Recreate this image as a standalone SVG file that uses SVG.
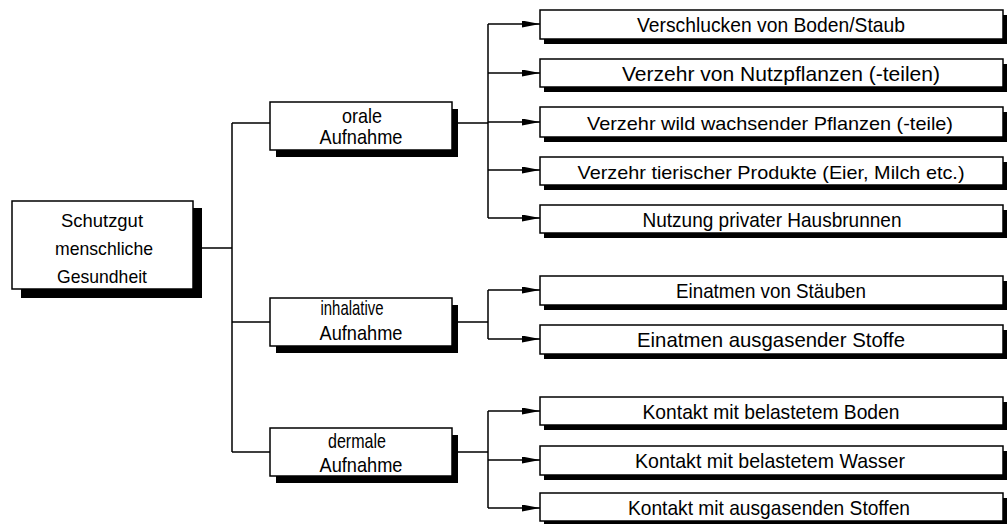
<svg xmlns="http://www.w3.org/2000/svg" width="1007" height="524" viewBox="0 0 1007 524">
<style>
.box{fill:#fff;stroke:#000;stroke-width:1.5}
.sh{fill:#000}
.ln{fill:none;stroke:#000;stroke-width:1.5}
.t{font-family:"Liberation Sans",Arial,sans-serif;fill:#000;text-anchor:middle}
.tl{font-size:21px}
.tx{font-size:19px}
.tm{font-size:21px}
.ts{font-size:19px}
</style>
<defs>
<marker id="ah" markerUnits="userSpaceOnUse" markerWidth="18" markerHeight="8" refX="18" refY="3.5" orient="auto">
<path d="M0,0 L18,3.5 L0,7 Z" fill="#000"/>
</marker>
</defs>
<rect width="1007" height="524" fill="#fff"/>
<g id="connectors">
<path class="ln" d="M201,248 H232 M232,123 V452 M232,123 H270 M232,322 H270 M232,452 H270"/>
<path class="ln" d="M458,123 H488 M488,24 V218 M458,322 H488 M488,290 V339 M458,452 H488 M488,411 V508"/>
<g marker-end="url(#ah)">
<path class="ln" d="M488,24 H540"/>
<path class="ln" d="M488,73 H540"/>
<path class="ln" d="M488,122 H540"/>
<path class="ln" d="M488,170 H540"/>
<path class="ln" d="M488,218 H540"/>
<path class="ln" d="M488,290 H540"/>
<path class="ln" d="M488,339 H540"/>
<path class="ln" d="M488,411 H540"/>
<path class="ln" d="M488,460 H540"/>
<path class="ln" d="M488,508 H540"/>
</g>
</g>
<g id="n-root">
<rect class="sh" x="21" y="208" width="181" height="90"/>
<rect class="box" x="12" y="201" width="181" height="88"/>
<text class="t ts" x="102" y="227" textLength="82" lengthAdjust="spacingAndGlyphs">Schutzgut</text>
<text class="t ts" x="104" y="255" textLength="98" lengthAdjust="spacingAndGlyphs">menschliche</text>
<text class="t ts" x="102" y="283" textLength="90" lengthAdjust="spacingAndGlyphs">Gesundheit</text>
</g>
<g id="n-oral">
<rect class="sh" x="276" y="109" width="182" height="48"/>
<rect class="box" x="270" y="102" width="182" height="48"/>
<text class="t tm" x="362" y="123" textLength="40" lengthAdjust="spacingAndGlyphs">orale</text>
<text class="t tm" x="361" y="144" textLength="83" lengthAdjust="spacingAndGlyphs">Aufnahme</text>
</g>
<g id="n-inhal">
<rect class="sh" x="276" y="305" width="182" height="48"/>
<rect class="box" x="270" y="298" width="182" height="48"/>
<text class="t tm" x="352" y="315" textLength="63" lengthAdjust="spacingAndGlyphs">inhalative</text>
<text class="t tm" x="361" y="340" textLength="83" lengthAdjust="spacingAndGlyphs">Aufnahme</text>
</g>
<g id="n-derm">
<rect class="sh" x="276" y="435" width="182" height="48"/>
<rect class="box" x="270" y="428" width="182" height="48"/>
<text class="t tm" x="357" y="448" textLength="58" lengthAdjust="spacingAndGlyphs">dermale</text>
<text class="t tm" x="361" y="472" textLength="83" lengthAdjust="spacingAndGlyphs">Aufnahme</text>
</g>
<g id="n-o1">
<rect class="sh" x="544" y="15" width="463" height="29"/>
<rect class="box" x="540" y="10" width="463" height="29"/>
<text class="t tl" x="771" y="32" textLength="268" lengthAdjust="spacingAndGlyphs">Verschlucken von Boden/Staub</text>
</g>
<g id="n-o2">
<rect class="sh" x="544" y="64" width="463" height="28"/>
<rect class="box" x="540" y="59" width="463" height="28"/>
<text class="t tl" x="781" y="81" textLength="318" lengthAdjust="spacingAndGlyphs">Verzehr von Nutzpflanzen (-teilen)</text>
</g>
<g id="n-o3">
<rect class="sh" x="544" y="112" width="463" height="30"/>
<rect class="box" x="540" y="107" width="463" height="30"/>
<text class="t tx" x="770" y="130" textLength="366" lengthAdjust="spacingAndGlyphs">Verzehr wild wachsender Pflanzen (-teile)</text>
</g>
<g id="n-o4">
<rect class="sh" x="544" y="162" width="463" height="28"/>
<rect class="box" x="540" y="157" width="463" height="28"/>
<text class="t tx" x="771" y="179" textLength="387" lengthAdjust="spacingAndGlyphs">Verzehr tierischer Produkte (Eier, Milch etc.)</text>
</g>
<g id="n-o5">
<rect class="sh" x="544" y="210" width="463" height="28"/>
<rect class="box" x="540" y="205" width="463" height="28"/>
<text class="t tl" x="772" y="227" textLength="259" lengthAdjust="spacingAndGlyphs">Nutzung privater Hausbrunnen</text>
</g>
<g id="n-i1">
<rect class="sh" x="544" y="281" width="463" height="29"/>
<rect class="box" x="540" y="276" width="463" height="29"/>
<text class="t tl" x="771" y="298" textLength="190" lengthAdjust="spacingAndGlyphs">Einatmen von Stäuben</text>
</g>
<g id="n-i2">
<rect class="sh" x="544" y="330" width="463" height="29"/>
<rect class="box" x="540" y="325" width="463" height="29"/>
<text class="t tl" x="771" y="347" textLength="268" lengthAdjust="spacingAndGlyphs">Einatmen ausgasender Stoffe</text>
</g>
<g id="n-d1">
<rect class="sh" x="544" y="402" width="463" height="28"/>
<rect class="box" x="540" y="397" width="463" height="28"/>
<text class="t tl" x="771" y="419" textLength="257" lengthAdjust="spacingAndGlyphs">Kontakt mit belastetem Boden</text>
</g>
<g id="n-d2">
<rect class="sh" x="544" y="451" width="463" height="29"/>
<rect class="box" x="540" y="446" width="463" height="29"/>
<text class="t tl" x="770" y="468" textLength="270" lengthAdjust="spacingAndGlyphs">Kontakt mit belastetem Wasser</text>
</g>
<g id="n-d3">
<rect class="sh" x="544" y="498" width="463" height="28"/>
<rect class="box" x="540" y="493" width="463" height="28"/>
<text class="t tl" x="769" y="515" textLength="282" lengthAdjust="spacingAndGlyphs">Kontakt mit ausgasenden Stoffen</text>
</g>
</svg>
